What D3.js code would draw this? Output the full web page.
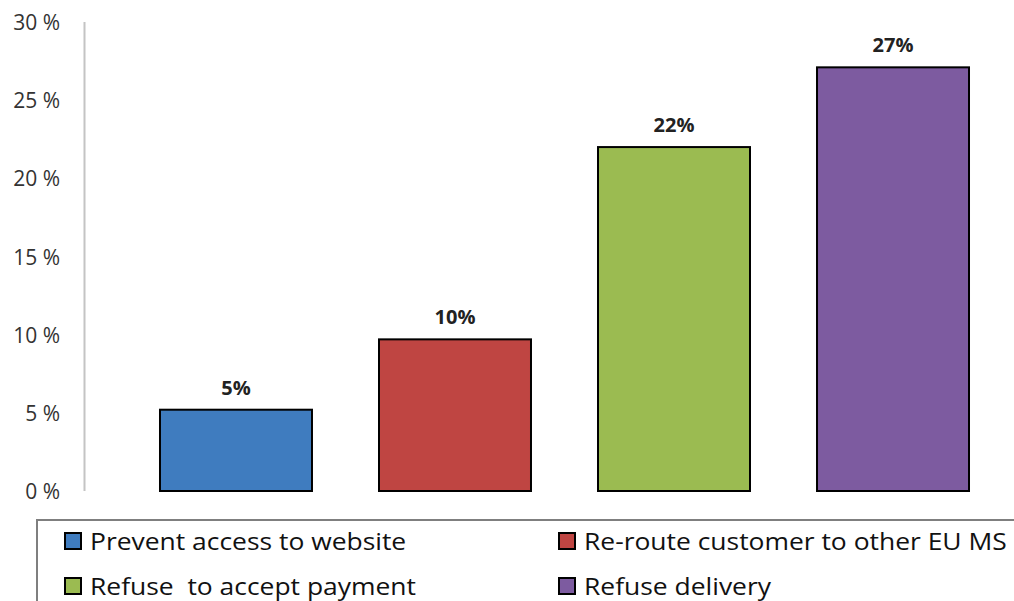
<!DOCTYPE html>
<html><head><meta charset="utf-8">
<script src="https://cdn.jsdelivr.net/npm/d3@7"></script>
<style>body{margin:0;background:#fff;} svg{display:block;}</style>
</head><body>
<svg id="c" width="1014" height="601"></svg>
<script>
const categories = ["Prevent access to website","Re-route customer to other EU MS","Refuse  to accept payment","Refuse delivery"];
const values = [5.2, 9.7, 22.0, 27.1];
const valueLabels = ["5%","10%","22%","27%"];
const colors = ["#3F7CBF","#BF4542","#9BBB51","#7D5BA0"];
const yTicks = [0,5,10,15,20,25,30];

const svg = d3.select("#c");
const font = "'Open Sans', sans-serif";
const y = d3.scaleLinear().domain([0,30]).range([491,22]);
const x = d3.scaleBand().domain(categories).range([84,1045]).paddingInner(0.306).paddingOuter(0.347);

// axis line
svg.append("line").attr("x1",84.5).attr("x2",84.5).attr("y1",y(30)).attr("y2",y(0))
  .attr("stroke","#c4c4c4").attr("stroke-width",2);

// tick labels
svg.append("g").selectAll("text").data(yTicks).join("text")
  .attr("x",60).attr("y",d=>y(d)+8).attr("text-anchor","end")
  .attr("font-family",font).attr("font-size",21).attr("fill","#333")
  .text(d=>d+" %");

// bars
svg.append("g").selectAll("rect").data(values).join("rect")
  .attr("x",(d,i)=>x(categories[i])).attr("width",x.bandwidth())
  .attr("y",d=>y(d)).attr("height",d=>y(0)-y(d))
  .attr("fill",(d,i)=>colors[i]).attr("stroke","#000").attr("stroke-width",2);

// value labels
svg.append("g").selectAll("text").data(values).join("text")
  .attr("x",(d,i)=>x(categories[i])+x.bandwidth()/2).attr("y",d=>y(d)-15)
  .attr("text-anchor","middle").attr("font-family",font).attr("font-weight","bold")
  .attr("font-size",20).attr("fill","#222")
  .text((d,i)=>valueLabels[i]);

// legend
svg.append("rect").attr("x",37).attr("y",520).attr("width",1000).attr("height",120)
  .attr("fill","none").attr("stroke","#7f7f7f").attr("stroke-width",2);
const legPos = [[64,533],[558,533],[64,578],[558,578]];
const sx = 1.15;
const lg = svg.append("g").selectAll("g").data(categories).join("g")
  .attr("transform",(d,i)=>`translate(${legPos[i][0]},${legPos[i][1]})`);
lg.append("rect").attr("x",1).attr("y",0).attr("width",16).attr("height",16)
  .attr("fill",(d,i)=>colors[i]).attr("stroke","#000").attr("stroke-width",2);
lg.append("text").attr("transform",`translate(26,17) scale(${sx},1)`)
  .attr("font-family",font).attr("font-size",23)
  .attr("fill","#111").attr("xml:space","preserve").style("white-space","pre").text(d=>d);
</script>
</body></html>
